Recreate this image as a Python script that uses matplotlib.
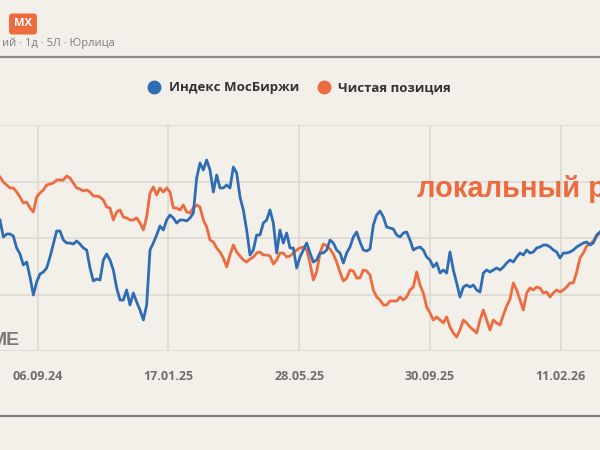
import numpy as np
import matplotlib.pyplot as plt
from matplotlib.lines import Line2D

# values (arbitrary units, no y labels shown)
moex = [131, 114, 117, 117, 115, 103, 97, 86, 89, 74, 56, 69, 77, 79, 83, 94, 107, 120, 120, 111,
        108, 108, 107, 110, 107, 103, 101, 83, 70, 72,
        71, 91, 97, 91, 81, 63, 51, 51, 61, 46, 58, 49, 41, 31, 46, 101, 108, 116, 125, 121,
        131, 136, 133, 128, 131, 131, 130, 133, 138, 173,
        188, 181, 191, 181, 159, 176, 163, 163, 166, 163, 184, 178, 154, 141, 121, 96, 101, 116, 116, 128,
        131, 141, 128, 98, 121, 108, 118, 103, 103, 83,
        94, 101, 108, 98, 89, 91, 98, 98, 101, 111, 108, 101, 98, 88, 98, 104, 114, 119, 109, 101,
        100, 102, 126, 136, 140, 134, 124, 123, 122, 116,
        114, 118, 119, 111, 101, 103, 104, 101, 94, 91, 84, 88, 78, 81, 78, 99, 81, 68, 54, 64,
        66, 64, 66, 61, 59, 78, 81, 79, 81, 83,
        81, 84, 88, 91, 89, 94, 98, 96, 101, 98, 99, 103, 104, 106, 106, 104, 101, 99, 93, 98,
        98, 99, 101, 104, 106, 108, 109, 106, 108, 116, 119]

net_pos = [174, 169, 166, 163, 163, 159, 154, 148, 149, 143, 139, 154, 158, 161, 166, 167, 168, 171, 171, 171,
           175, 173, 168, 163, 162, 160, 161, 159, 155, 155,
           154, 151, 144, 143, 131, 139, 141, 134, 133, 131, 131, 133, 128, 121, 134, 158, 164, 156, 163, 159,
           163, 159, 143, 143, 141, 146, 139, 138, 143, 146,
           144, 131, 124, 111, 109, 103, 99, 93, 84, 96, 106, 99, 95, 91, 89, 92, 94, 98, 99, 96,
           96, 95, 87, 91, 98, 98, 94, 95, 98, 101,
           103, 104, 101, 88, 71, 79, 98, 107, 105, 102, 97, 89, 79, 70, 73, 81, 80, 73, 73, 81,
           80, 76, 61, 54, 51, 46, 46, 50, 50, 50,
           54, 51, 54, 61, 64, 79, 66, 58, 44, 38, 31, 34, 31, 28, 34, 24, 18, 14, 21, 31,
           28, 24, 21, 18, 31, 41, 31, 21, 31, 28,
           26, 36, 45, 52, 68, 61, 51, 41, 58, 63, 61, 64, 63, 58, 59, 54, 58, 61, 59, 61,
           64, 68, 68, 79, 93, 98, 105, 107, 110, 115, 118]

tick_labels = ['06.09.24', '17.01.25', '28.05.25', '30.09.25', '11.02.26']
series_names = ['Индекс МосБиржи', 'Чистая позиция']

bg = '#F3F0EA'
blue = '#2E6DB4'
orange = '#EE6A3F'
grid_c = '#DCD8D0'

plt.rcParams['font.family'] = ['Open Sans', 'DejaVu Sans']

fig = plt.figure(figsize=(6, 4.5), dpi=100, facecolor=bg)
ax = fig.add_axes([0, 1 - 351 / 450, 1, 226 / 450])
ax.set_facecolor(bg)

x = np.arange(len(moex))
ax.plot(x, net_pos, color=orange, lw=2.0, solid_joinstyle='round')
ax.plot(x, moex, color=blue, lw=2.0, solid_joinstyle='round')

ax.set_xlim(0, len(moex) - 1)
ax.set_ylim(0, 226)
tick_pos = 11.25 + 39.25 * np.arange(len(tick_labels))
ax.set_xticks(tick_pos)
ax.set_xticklabels(tick_labels, fontsize=9, fontweight='bold', color='#6e6e6e')
ax.set_yticks(np.linspace(0, 226, 5))
ax.set_yticklabels([])
ax.tick_params(axis='both', length=0, pad=14)
ax.grid(True, color=grid_c, lw=1.1)
ax.set_axisbelow(True)
for s in ax.spines.values():
    s.set_visible(False)

# legend
handles = [Line2D([], [], ls='none', marker='o', ms=9, color=c) for c in (blue, orange)]
fig.legend(handles, series_names, loc='center', bbox_to_anchor=(296 / 600, 1 - 88 / 450),
           ncol=2, frameon=False, handletextpad=0.1, columnspacing=0.9,
           prop={'size': 9.5, 'weight': 'bold'}, labelcolor='#333333')

# header bits
fig.text(23 / 600, 1 - 24 / 450, 'MX', ha='center', va='center', color='white', fontsize=8,
         fontweight='bold', bbox=dict(boxstyle='round,pad=0.45,rounding_size=0.3', fc=orange, ec='none'))
fig.text(115 / 600, 1 - 43 / 450, 'ий · 1д · 5Л · Юрлица', ha='right', va='center',
         color='#7d7d7d', fontsize=8)
fig.add_artist(Line2D([0, 1], [1 - 57 / 450] * 2, color='#8c8c8c', lw=1.6, transform=fig.transFigure))
fig.add_artist(Line2D([0, 1], [1 - 416 / 450] * 2, color='#7c7c7c', lw=1.6, transform=fig.transFigure))

# overlay texts
fig.text(20 / 600, 1 - 345 / 450, 'ME', ha='right', va='baseline', color='#7a7a7a',
         fontsize=14, fontweight='bold', family=['Liberation Sans', 'DejaVu Sans'])
fig.text(417 / 600, 1 - 197 / 450, 'локальный р', ha='left', va='baseline', color=orange,
         fontsize=21, fontweight='bold', family=['Liberation Sans', 'DejaVu Sans'])

fig.savefig('out.png', dpi=100, facecolor=bg)
